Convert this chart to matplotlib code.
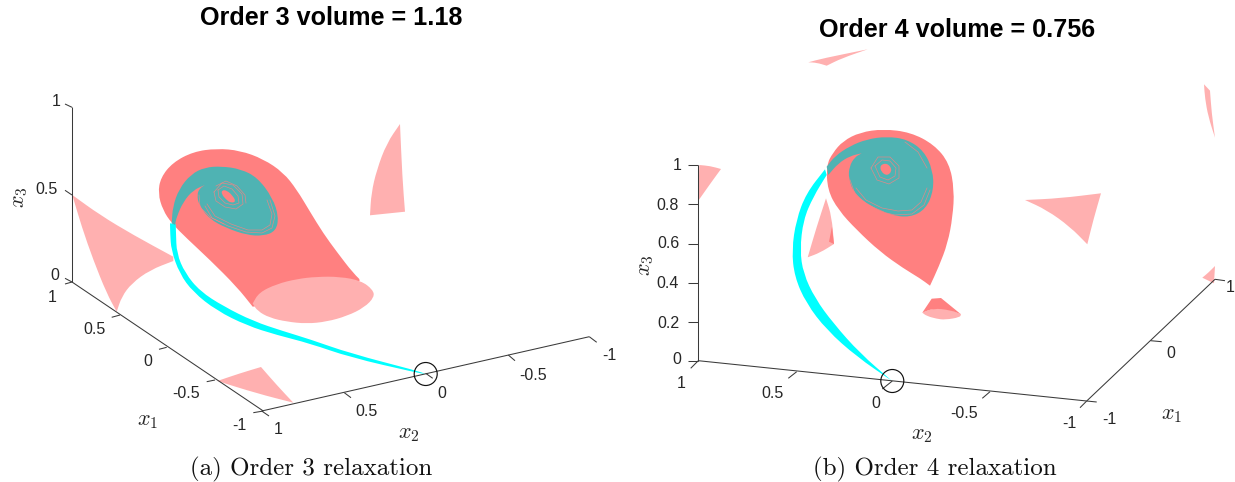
#!/usr/bin/env python3

import matplotlib
matplotlib.use("Agg")
import matplotlib.pyplot as plt
from matplotlib.patches import Circle, PathPatch
from matplotlib.path import Path

plt.rcParams["font.family"] = ["Liberation Sans", "DejaVu Sans"]
plt.rcParams["mathtext.fontset"] = "cm"

RED = "#FF8080"
PINK = "#FFB0B0"
CYAN = "#00FFFF"
TEAL = "#4FB3B3"
AXIS = "#3A3A3A"
TEXT = "#262626"

# Panel (a): outlines, in picture pixels.
# A point listed twice is a sharp corner, the others are rounded off.
a_body = [(216.7,148.5),(240,150.5),(263.3,159),(283.3,172.5),(296.7,189.5),(310,211.7),(323.3,233.3),
          (336.7,251.7),(353.3,273.3),(364,283.3),(316.7,296.7),(252.7,306.7),(252.7,306.7),(236.7,286.7),(210,260),
          (186.7,238.3),(171.7,223.3),(162.8,210),(158,193.3),(160.7,177.5),(172.8,162.5),(193.3,151.7)]
a_cap = [(252.7,303.5),(252.7,303.5),(259,292.5),(276.7,284),(296.7,279),(316.7,276.7),(340,276.7),(361,280.7),(372.7,289.5),
         (374.5,297),(364.3,307.5),(347,316),(326.7,321.7),(306.7,323.7),(286.7,321.7),(269.5,317.7),(257.5,311)]
a_wedges = [
    [(72.3,195),(72.3,195),(100,215),(133.3,235),(173.3,256.7),(173.3,256.7),(173.3,261),(173.3,261),(150,270),
     (131.7,283.3),(121.7,296.7),(116.7,311.7),(116.7,311.7),(106.7,293.3),(93.3,260),(81.7,226.7)],
    [(217.3,381),(217.3,381),(240,373.3),(261,367),(261,367),(276.7,385),(293.3,402.7),(293.3,402.7),(256.7,393.3)],
    [(400,124),(400,124),(402.3,176.7),(405,211.7),(405,211.7),(370,215.3),(370,215.3),(371.3,193.3),(376.7,170),(386.7,143.3)],
]
a_ribbon = [(170,223.3),(170,223.3),(170.2,233.3),(171.2,250),(179.5,273.5),(193,292),(216.5,310.5),(246.7,325.5),(276.7,335),(310,343.5),
            (350,357.3),(416.7,372.7),(425.7,374),(425.7,374),(416.7,370.7),(350,353.3),(310,339.3),(283.3,331.2),
            (253.3,321.2),(223.3,306.2),(200,291.2),(185,273),(176.7,253.3),(176,233),(175.7,224),(175.7,224)]
a_teal = [(171.7,223.3),(171.7,223.3),(172.8,206.7),(179,189),(191,174.2),(205,167.3),(221.7,166.3),(240.5,169),(257.5,177.5),
          (272.7,198),(278.7,216.7),(276,231),(263.3,236),(246.7,235),(226.7,228.2),(209.5,219),(199,205),
          (197,195),(199.5,188.5),(205,185),(205,185),(193.3,190),(183.3,201.7),(176.7,216.7),(175,225),(175,225)]
a_hole = [(222,190),(227,190.5),(232.5,195.5),(236,201.5),(231,203),(226,199.5),(221.5,194)]
a_loops = [
    [(218,190),(224,186),(232,189),(238,196),(239,203),(233,205),(225,203),(219,197),(218,190)],
    [(214,192),(222,183),(233,185),(242,194),(243,204),(236,209),(225,207),(216,201),(214,192)],
    [(216,186),(226,181),(237,186),(245,195),(246,203)],
    [(205,206),(212,218),(228,226),(246,232),(262,233),(272,228),(275,216),(270,200)],
    [(207,204),(215,216),(231,224),(248,230),(262,230),(270,225),(272,214),(267,200)],
    [(199,195),(200,207),(210,217),(224,224)],
]

# Panel (b)
b_body = [(826.5,165),(832.8,152.8),(843,141),(860,132.3),(883.3,129),(910.5,132.3),(934,144.5),(949.3,163),
          (954.3,190),(952.7,216.7),(947.7,243.3),(938.8,266.7),(930,285.7),(930,285.7),(920,278.3),(903.3,268.3),
          (880,251.7),(856.7,230),(838.3,210),(827.5,190)]
b_wedges = [
    [(699.3,165),(699.3,165),(710,166),(721,169),(721,169),(711.7,181.7),(698.3,200.7),(698.3,200.7)],
    [(808.3,62.3),(808.3,62.3),(823.3,58.3),(867.7,49.3),(867.7,49.3),(841.7,58.3),(826.7,65.7),(826.7,65.7),(816.7,62.7)],
    [(1025,200),(1025,200),(1060,198.3),(1101,193.3),(1101,193.3),(1093.3,220),(1087.3,244.3),(1087.3,244.3),(1070,226.7),(1046.7,210)],
    [(1204,84.3),(1204,84.3),(1210,90.7),(1210,90.7),(1211.7,113.3),(1215,137.7),(1215,137.7),(1208.3,116.7),(1205,98.3)],
    [(1215,266),(1215,266),(1214,283.3),(1214,283.3),(1202.3,277.7),(1202.3,277.7),(1208.3,272.7)],
    [(826,198.3),(826,198.3),(831.7,216.7),(834,244),(834,244),(820,252.7),(807.7,257.3),(807.7,257.3),(816.7,226.7)],
    [(922.3,312.7),(922.3,312.7),(933.3,308.3),(946.7,308.3),(961,314.3),(961,314.3),(960,317.3),(945,319.8),(936.7,318.8),(926.7,316)],
]
b_dark = [
    [(832,226.7),(832,226.7),(834,244),(834,244),(829,241.7),(829,241.7)],
    [(931.7,298.7),(931.7,298.7),(941,298),(941,298),(961,314.3),(961,314.3),(950,310),(933.3,308.3),(922.3,312.7),(922.3,312.7)],
]
b_ribbon = [(825,169.3),(825,169.3),(806.2,193.3),(796.2,220),(791.8,250),(794.5,276.7),(806.2,303.3),(826.7,330),(856.7,356.7),
            (891.7,380.7),(891.7,380.7),(860,353.3),(833.3,323.3),(815,298.3),(803.3,273.3),(800,250),(803.3,220),
            (813.3,196.7),(826.7,175),(826.7,175)]
b_teal = [(826.7,166.7),(826.7,166.7),(835,156),(850,146),(866.7,139.3),(886.7,136.5),(907.2,139.3),(924,151),(932.7,170),
          (933.7,190),(926,209),(910,217.5),(890,215),(869.5,205.5),(854.3,193.8),(848.5,178.3),(849.3,166.7),
          (854.5,157.3),(861.7,153.3),(861.7,153.3),(850,156),(838.3,163.3),(828.3,175),(828.3,175)]
b_hole = [(880,165),(887.3,163),(892.5,170),(887.5,176),(881,172)]
b_loops = [
    [(875,166),(882,160),(890,161),(896,168),(895,176),(888,180),(880,177),(875,166)],
    [(871,168),(878,157),(890,157),(899,166),(899,178),(889,184),(877,180),(871,168)],
    [(853,190),(862,202),(878,211),(895,215),(912,214),(924,205),(930,190)],
    [(856,188),(866,200),(882,208),(898,211),(912,210),(921,202),(927,188)],
    [(850,180),(855,194),(868,205),(884,212)],
    [(905,142),(918,152),(927,168)],
]

# Axis lines: (start, end) in picture pixels, ticks as (on the axis, tip)
a_lines = [((72,107),(72,282)),((72,282),(263.3,411)),((261.7,411),(589.3,336.7))]
a_ticks = [((72,107.3),(65,104)),((72,195),(65,190.3)),((72,282),(65,278.3)),
           ((72,282),(65,284)),((120,315),(111.7,317.3)),((166.7,347.3),(159,349.3)),((215,380),(206.7,381.7)),
           ((263.3,411),(253.3,412.7)),
           ((261.7,411),(269,416)),((344.3,392.7),(351,397.7)),((425.7,373.3),(432.7,378.3)),
           ((508.3,355),(515,360.7)),((589.3,336.7),(596.7,342.3))]
b_lines = [((698.3,165),(698.3,360.7)),((698.3,360.7),(1086.7,401)),((1086.7,401),(1215,279.3))]
b_ticks = [((698.3,165),(688.3,165)),((698.3,204.3),(688.3,204.3)),((698.3,243.7),(688.3,243.7)),
           ((698.3,283),(688.3,283)),((698.3,322),(688.3,322)),((698.3,360.7),(688.3,360.7)),
           ((698.3,360.7),(690.7,368.3)),((796.7,371.7),(788.3,378.3)),((892.3,381),(882.3,389)),
           ((990,391.7),(982.3,398.3)),((1086.7,401),(1080,407.7)),
           ((1086.7,401),(1096.7,402)),((1150.7,340.7),(1161.7,341.7)),((1215,279.3),(1225,280.7))]

# Tick labels: text, x, y
a_labels = [("1",56,101),("0.5",47,189),("0",55,276),("1",52,297),("0.5",95,329),("0",148,361),("-0.5",186,393),
            ("-1",239,426),("1",278,430),("0.5",367,411),("0",442,393),("-0.5",533,375),("-1",609,356)]
b_labels = [("1",677,165),("0.8",668,205),("0.6",668,243),("0.4",668,283),("0.2",668,323),("0",677,360),
            ("1",681,384),("0.5",772,393),("0",876,403),("-0.5",964,413),("-1",1069,423),
            ("-1",1109,420),("0",1171,353),("1",1230,288)]


def fill(ax, pts, color, z):
    # closed outline, the listed points act as curve controls
    n = len(pts)
    mid = lambda p, q: ((p[0] + q[0]) / 2, (p[1] + q[1]) / 2)
    verts = [mid(pts[-1], pts[0])]
    codes = [Path.MOVETO]
    for i in range(n):
        verts += [pts[i], mid(pts[i], pts[(i + 1) % n])]
        codes += [Path.CURVE3, Path.CURVE3]
    ax.add_patch(PathPatch(Path(verts, codes), fc=color, lw=0, zorder=z))


def lines(ax, pairs, color=AXIS, lw=0.75):
    for p, q in pairs:
        ax.plot([p[0], q[0]], [p[1], q[1]], color=color, lw=lw, zorder=6, solid_capstyle="butt")


def draw_panel(ax, body, wedges, ribbon, teal, hole, loops, axlines, ticks, labels, mark):
    for w in wedges:
        fill(ax, w, PINK, 2)
    fill(ax, body, RED, 1)
    fill(ax, ribbon, CYAN, 3)
    fill(ax, teal, TEAL, 4)
    fill(ax, hole, RED, 5)
    for loop in loops:
        xs, ys = zip(*loop)
        ax.plot(xs, ys, color=RED, lw=0.5, alpha=0.8, zorder=5)
    lines(ax, axlines)
    lines(ax, ticks)
    for s, x, y in labels:
        ax.text(x, y, s, fontsize=11.5, color=TEXT, ha="center", va="center", zorder=7)
    ax.add_patch(Circle(mark, 11.5, fill=False, ec="#111111", lw=0.85, zorder=8))


fig = plt.figure(figsize=(12.35, 4.82), dpi=100)
ax = fig.add_axes([0, 0, 1, 1])
ax.set_xlim(0, 1235)
ax.set_ylim(482, 0)
ax.axis("off")

draw_panel(ax, a_body, a_wedges, a_ribbon, a_teal, a_hole, a_loops, a_lines, a_ticks, a_labels, (425.7, 374))
fill(ax, a_cap, PINK, 2)
draw_panel(ax, b_body, b_wedges, b_ribbon, b_teal, b_hole, b_loops, b_lines, b_ticks, b_labels, (892.3, 381))
for d in b_dark:
    fill(ax, d, RED, 2.5)

ax.text(331.5, 18, "Order 3 volume = 1.18", fontsize=18.1, fontweight="bold", ha="center", va="center")
ax.text(957.5, 30, "Order 4 volume = 0.756", fontsize=18.1, fontweight="bold", ha="center", va="center")

ax.text(148, 421, r"$x_1$", fontsize=16, color=TEXT, ha="center", va="center")
ax.text(409, 434, r"$x_2$", fontsize=16, color=TEXT, ha="center", va="center")
ax.text(19, 197, r"$x_3$", fontsize=16, color=TEXT, rotation=90, ha="center", va="center")
ax.text(1172, 415, r"$x_1$", fontsize=16, color=TEXT, ha="center", va="center")
ax.text(922, 435, r"$x_2$", fontsize=16, color=TEXT, ha="center", va="center")
ax.text(645, 265, r"$x_3$", fontsize=16, color=TEXT, rotation=90, ha="center", va="center")

ax.text(311.5, 469.5, "(a) Order 3 relaxation", family="cmr10", fontsize=18, color="#111111", ha="center", va="center")
ax.text(935, 469.5, "(b) Order 4 relaxation", family="cmr10", fontsize=18, color="#111111", ha="center", va="center")

fig.savefig("out.png", dpi=100)
